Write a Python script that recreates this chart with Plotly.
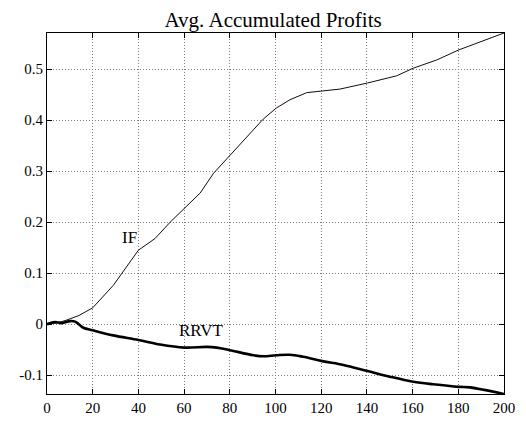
import plotly.graph_objects as go

# Values
if_x = [0, 5, 8.6, 14, 20, 29, 40, 47.3, 53.9, 60, 67, 72.9, 80, 87, 94.6, 100.4,
        106.3, 113.6, 120.5, 128.2, 140.3, 153, 160.3, 170.5, 180.3, 189.5, 200]
if_y = [0, 0.003, 0.008, 0.017, 0.032, 0.076, 0.145, 0.168, 0.2, 0.227, 0.257,
        0.296, 0.330, 0.365, 0.402, 0.424, 0.44, 0.454, 0.457, 0.461, 0.473,
        0.487, 0.502, 0.518, 0.538, 0.554, 0.571]

rrvt_x = [0, 3.5, 6.4, 10.1, 12.3, 15.9, 20, 29, 40, 49.5, 60, 70, 74.3, 80, 90.4,
          94.6, 100.4, 106.3, 112.1, 120.5, 129.7, 140.3, 150, 160.3, 169, 180.3,
          185, 200]
rrvt_y = [0, 0.004, 0.002, 0.006, 0.005, -0.007, -0.012, -0.022, -0.031, -0.040,
          -0.046, -0.0445, -0.046, -0.051, -0.061, -0.063, -0.061, -0.060, -0.064,
          -0.0725, -0.080, -0.092, -0.103, -0.113, -0.118, -0.123, -0.124, -0.137]

x_ticks = [0, 20, 40, 60, 80, 100, 120, 140, 160, 180, 200]
y_ticks = [-0.1, 0, 0.1, 0.2, 0.3, 0.4, 0.5]
y_tick_labels = ["-0.1", "0", "0.1", "0.2", "0.3", "0.4", "0.5"]

serif = "Liberation Serif"

fig = go.Figure()
fig.add_trace(go.Scatter(x=if_x, y=if_y, mode="lines",
                         line=dict(color="#1a0a0a", width=1)))
fig.add_trace(go.Scatter(x=rrvt_x, y=rrvt_y, mode="lines",
                         line=dict(color="#000000", width=2.6), line_shape="spline"))

fig.add_annotation(x=36.3, y=0.17, text="IF", showarrow=False,
                   font=dict(family=serif, size=17, color="black"))
fig.add_annotation(x=67.8, y=-0.012, text="RRVT", showarrow=False,
                   font=dict(family=serif, size=17, color="black"))

axis_common = dict(
    showgrid=True, gridcolor="#7f7790", griddash="1px,2px", gridwidth=1,
    showline=True, linecolor="black", linewidth=1, mirror="allticks",
    ticks="inside", ticklen=5, tickcolor="black", zeroline=False,
    tickfont=dict(family=serif, size=15, color="black"),
)

fig.update_xaxes(range=[0, 200], tickvals=x_ticks, **axis_common)
fig.update_yaxes(range=[-0.137, 0.571], tickvals=y_ticks, ticktext=y_tick_labels,
                 **axis_common)

# page body adds 8px offset, margins compensate for it
fig.update_layout(
    width=526, height=444,
    margin=dict(l=39, r=30, t=25, b=58),
    paper_bgcolor="white", plot_bgcolor="white",
    showlegend=False,
    font=dict(family=serif),
    title=dict(text="Avg. Accumulated Profits", x=0.504, xanchor="center",
               y=0.973, yanchor="middle",
               font=dict(family=serif, size=21, color="black")),
)

fig.write_html("out.html")
